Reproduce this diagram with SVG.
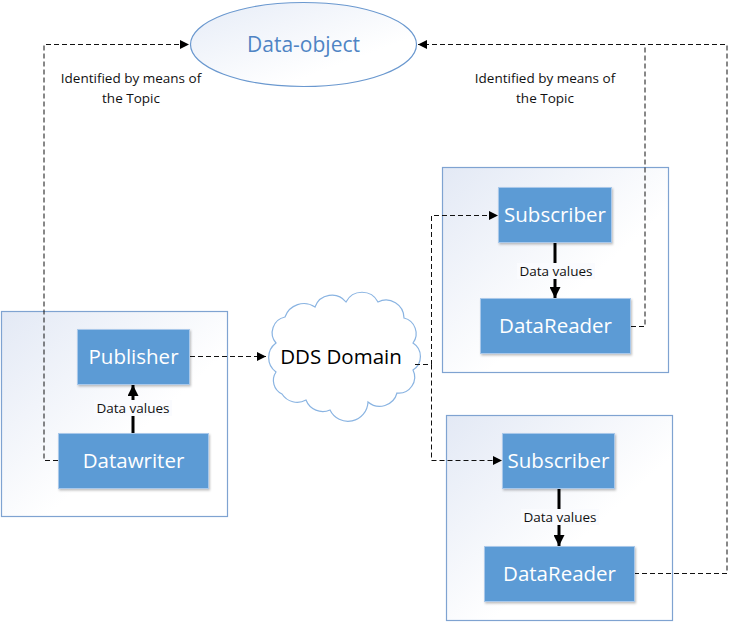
<svg xmlns="http://www.w3.org/2000/svg" width="729" height="622" viewBox="0 0 729 622">
<defs>
<linearGradient id="cg" x1="0" y1="0" x2="1" y2="1">
<stop offset="0" stop-color="#e3e9f5"/>
<stop offset="0.6" stop-color="#ffffff"/>
</linearGradient>
<linearGradient id="eg" x1="0" y1="0" x2="1" y2="1">
<stop offset="0" stop-color="#e6ecf7"/>
<stop offset="0.7" stop-color="#ffffff"/>
</linearGradient>
<marker id="ah" viewBox="0 0 10 10" refX="10" refY="5" markerWidth="9" markerHeight="9" markerUnits="userSpaceOnUse" orient="auto">
<path d="M0,0 L10,5 L0,10 Z" fill="#000"/>
</marker>
<marker id="ahb" viewBox="0 0 10 10" refX="10" refY="5" markerWidth="13" markerHeight="11" markerUnits="userSpaceOnUse" orient="auto">
<path d="M0,0 L10,5 L0,10 Z" fill="#000"/>
</marker>
<filter id="sh" x="-10%" y="-10%" width="130%" height="130%">
<feDropShadow dx="1" dy="1.5" stdDeviation="1" flood-color="#000" flood-opacity="0.25"/>
</filter>
</defs>
<style>
.cont{fill:url(#cg);stroke:#7fa3d1;stroke-width:1.2}
.box{fill:#5b9bd5;stroke:#a9c8ea;stroke-width:1;filter:url(#sh)}
.bt{font-family:"Open Sans","Noto Sans",sans-serif;font-size:20.5px;fill:#fff;text-anchor:middle}
.lbl{font-family:"Open Sans","Noto Sans",sans-serif;font-size:13.5px;fill:#111;text-anchor:middle}
.dash{fill:none;stroke:#111;stroke-width:1;stroke-dasharray:5,3}
.solid{fill:none;stroke:#000;stroke-width:3}
</style>

<g id="container-publisher"><rect class="cont" x="1.5" y="311.5" width="226" height="205"/></g>
<g id="container-subscriber1"><rect class="cont" x="442.5" y="167.5" width="226" height="205"/></g>
<g id="container-subscriber2"><rect class="cont" x="446.5" y="415.5" width="226" height="205"/></g>

<g id="data-object">
<ellipse cx="303.5" cy="44.5" rx="113" ry="42" fill="url(#eg)" stroke="#6a98cf" stroke-width="1.2"/>
<text x="303.5" y="52" font-family="'Open Sans','Noto Sans',sans-serif" font-size="21" fill="#4f84c4" text-anchor="middle">Data-object</text>
</g>

<g id="dds-domain">
<path d="M276,343 A16,16 0 0 1 285,317 A20,20 0 0 1 315,307 A18,18 0 0 1 346,302 A18,18 0 0 1 378,302 A18,18 0 0 1 404,318 A16,16 0 0 1 413,343 A16,16 0 0 1 413,370 A16,16 0 0 1 397,393 A18,18 0 0 1 368,402 A20,20 0 0 1 330,410 A18,18 0 0 1 306,400 A18,18 0 0 1 282,394 A15,15 0 0 1 276,372 A18,18 0 0 1 276,343 Z" fill="#fff" stroke="#8ab4e2" stroke-width="1.2"/>
<text x="341" y="364" font-family="'Open Sans','Noto Sans',sans-serif" font-size="20.5" fill="#000" text-anchor="middle">DDS Domain</text>
</g>

<g id="connectors">
<path class="dash" d="M58,460.5 H44 V44.5 H189" marker-end="url(#ah)"/>
<path class="dash" d="M631,326.5 H645 V44.5 H418" marker-end="url(#ah)"/>
<path class="dash" d="M634,573.5 H727 V44.5 H645"/>
<path class="dash" d="M190,356.5 H266" marker-end="url(#ah)"/>
<path class="dash" d="M415,364.5 H431.5 V215.5 H498" marker-end="url(#ah)"/>
<path class="dash" d="M431.5,364.5 V460.5 H502" marker-end="url(#ah)"/>
<path class="solid" d="M133,433 V385" marker-end="url(#ahb)"/>
<path class="solid" d="M555,243 V298" marker-end="url(#ahb)"/>
<path class="solid" d="M559,488 V546" marker-end="url(#ahb)"/>
<rect x="94" y="400" width="78" height="16" fill="#fafbfe"/>
<text class="lbl" x="133" y="412.5">Data values</text>
<rect x="517" y="263" width="78" height="16" fill="#fafbfe"/>
<text class="lbl" x="556" y="275.5">Data values</text>
<rect x="521" y="509" width="78" height="16" fill="#fafbfe"/>
<text class="lbl" x="560" y="521.5">Data values</text>
<text class="lbl" x="131" y="83">Identified by means of</text>
<text class="lbl" x="131" y="103">the Topic</text>
<text class="lbl" x="545" y="83">Identified by means of</text>
<text class="lbl" x="545" y="103">the Topic</text>
</g>

<g id="publisher"><rect class="box" x="77.5" y="329.5" width="112" height="55"/><text class="bt" x="133.5" y="363.5">Publisher</text></g>
<g id="datawriter"><rect class="box" x="58.5" y="433.5" width="150" height="55"/><text class="bt" x="133.5" y="467.5">Datawriter</text></g>
<g id="subscriber1"><rect class="box" x="498.5" y="187.5" width="113" height="55"/><text class="bt" x="555" y="221.5">Subscriber</text></g>
<g id="datareader1"><rect class="box" x="480.5" y="298.5" width="150" height="55"/><text class="bt" x="555.5" y="332.5">DataReader</text></g>
<g id="subscriber2"><rect class="box" x="502.5" y="433.5" width="112" height="55"/><text class="bt" x="558.5" y="467.5">Subscriber</text></g>
<g id="datareader2"><rect class="box" x="484.5" y="546.5" width="150" height="55"/><text class="bt" x="559.5" y="580.5">DataReader</text></g>
</svg>
